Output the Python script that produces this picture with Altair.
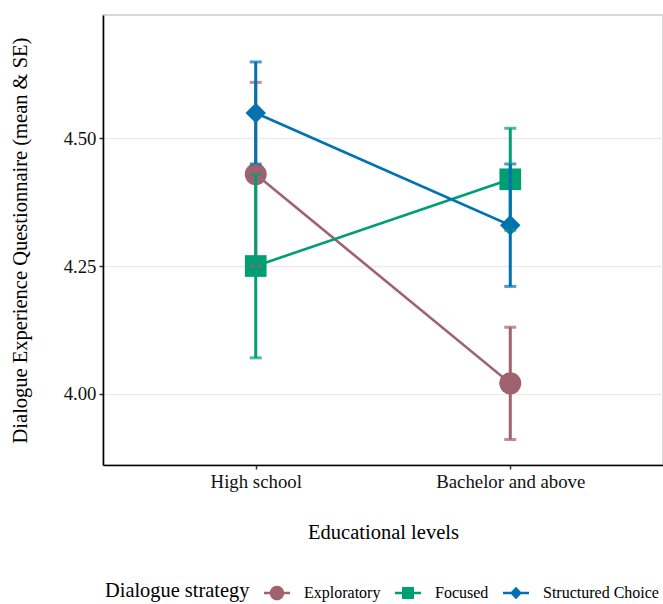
import altair as alt
import pandas as pd

education = ["High school", "Bachelor and above"]
strategies = ["Exploratory", "Focused", "Structured Choice"]
mean_exploratory = [4.43, 4.02]
mean_focused = [4.25, 4.42]
mean_structured = [4.55, 4.33]
se_exploratory = [0.18, 0.11]
se_focused = [0.18, 0.10]
se_structured = [0.10, 0.12]
colors = ["#A0626F", "#009E73", "#0072B2"]
marker_shapes = ["circle", "square", "diamond"]
marker_sizes = [484, 470, 420]
y_ticks = [4.00, 4.25, 4.50]

# legend glyphs: a short line segment with the marker on it (filled paths)
legend_glyphs = [
    "M-1,-0.1H1V0.1H-1ZM0.56,0A0.56,0.56,0,1,1,-0.56,0A0.56,0.56,0,1,1,0.56,0Z",
    "M-1,-0.1H1V0.1H-1ZM-0.46,-0.46H0.46V0.46H-0.46Z",
    "M-1,-0.1H1V0.1H-1ZM0,-0.48L0.46,0L0,0.48L-0.46,0Z",
]

rows = []
for s, m, e in zip(strategies,
                   [mean_exploratory, mean_focused, mean_structured],
                   [se_exploratory, se_focused, se_structured]):
    for edu, mv, ev in zip(education, m, e):
        rows.append(dict(edu=edu, strategy=s, mean=mv, lo=mv - ev, hi=mv + ev))
df = pd.DataFrame(rows)

FONT = "Liberation Serif"

legend = alt.Legend(
    title="Dialogue strategy",
    orient="none",
    legendX=2,
    legendY=565,
    direction="horizontal",
    titleOrient="left",
    titleBaseline="middle",
    titleFont=FONT,
    titleFontSize=20.4,
    titleFontWeight="normal",
    titleColor="black",
    titlePadding=14,
    labelFont=FONT,
    labelFontSize=16,
    labelColor="black",
    labelOffset=14,
    columnPadding=14,
    symbolSize=676,
    symbolStrokeWidth=0,
    symbolOpacity=1,
)

x = alt.X(
    "edu:N",
    sort=education,
    scale=alt.Scale(type="point", padding=0.6),
    axis=alt.Axis(
        title="Educational levels",
        labelAngle=0,
        labelFont=FONT,
        labelFontSize=18.8,
        labelColor="#111111",
        labelPadding=3,
        titleFont=FONT,
        titleFontSize=20.5,
        titleFontWeight="normal",
        titleColor="black",
        titlePadding=32,
        domainColor="black",
        domainWidth=1.6,
        tickColor="#333333",
        tickWidth=1.5,
        tickSize=4,
        grid=False,
    ),
)

y = alt.Y(
    "mean:Q",
    scale=alt.Scale(domain=[3.86, 4.742], nice=False, zero=False),
    axis=alt.Axis(
        title="Dialogue Experience Questionnaire (mean & SE)",
        values=y_ticks,
        format=".2f",
        labelFont=FONT,
        labelFontSize=18.8,
        labelColor="#111111",
        labelPadding=3,
        titleFont=FONT,
        titleFontSize=20.5,
        titleFontWeight="normal",
        titleColor="black",
        titlePadding=33,
        domainColor="black",
        domainWidth=1.6,
        tickColor="#333333",
        tickWidth=1.5,
        tickSize=4,
        grid=True,
        gridColor="#EBEBEB",
        gridWidth=1.5,
    ),
)

color_scale = alt.Scale(domain=strategies, range=colors)
color = alt.Color("strategy:N", sort=strategies, scale=color_scale, legend=legend)
shape_legend = alt.Shape(
    "strategy:N",
    sort=strategies,
    scale=alt.Scale(domain=strategies, range=legend_glyphs),
    legend=legend,
)

base = alt.Chart(df)

# tiny hidden carrier of the legend (covered by the real markers)
legend_layer = base.mark_point(filled=True, size=2, opacity=1).encode(
    x=x, y=y, color=color, shape=shape_legend)

lines = base.mark_line(strokeWidth=2.6).encode(x=x, y=y, color=color, detail="strategy:N")

point_layers = [
    base.transform_filter(alt.datum.strategy == s)
    .mark_point(filled=True, opacity=1, shape=shp, size=sz)
    .encode(x=x, y=y, color=color)
    for s, shp, sz in zip(strategies, marker_shapes, marker_sizes)
]

caps_lo = base.mark_tick(orient="horizontal", size=12, thickness=3).encode(
    x=x, y=alt.Y("lo:Q"), color=color)
caps_hi = base.mark_tick(orient="horizontal", size=12, thickness=3).encode(
    x=x, y=alt.Y("hi:Q"), color=color)
bars = base.mark_rule(strokeWidth=3).encode(
    x=x, y=alt.Y("lo:Q"), y2="hi:Q", color=color)

chart = (
    alt.layer(legend_layer, lines, *point_layers, caps_lo, caps_hi, bars)
    .properties(
        width=560,
        height=450,
        autosize=alt.AutoSizeParams(type="none"),
        padding={"left": 103, "top": 15, "right": 0, "bottom": 139},
        background="white",
    )
    .configure_view(stroke="#D9D9D9", strokeWidth=2)
)

chart.save("out.html", embed_options={"renderer": "svg", "actions": False})
